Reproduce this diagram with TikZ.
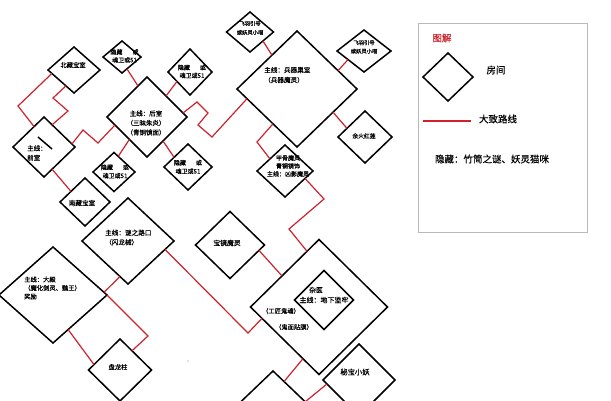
\documentclass[tikz,border=0pt]{standalone}
\usepackage{fontspec}
\newfontfamily\cjk[FakeBold=0.4]{Noto Sans CJK SC}
\usetikzlibrary{shapes.geometric,calc}
\definecolor{routered}{RGB}{205,35,45}
\definecolor{boxgrey}{RGB}{185,185,185}
\tikzset{
  room/.style={draw=black, line width=1.5pt, diamond, inner sep=0pt, outer sep=0pt},
  route/.style={draw=routered, line width=1.2pt, line join=miter},
  lbl/.style={inner sep=0pt, align=center, font=\cjk\fontsize{#1}{9}\selectfont},
  lbl/.default=6.3,
  lbll/.style={inner sep=0pt, align=left, anchor=west, font=\cjk\fontsize{#1}{9.5}\selectfont},
  lbll/.default=6.3,
  legtxt/.style={inner sep=0pt, font=\cjk\fontsize{9.5}{11}\selectfont},
}
\begin{document}
\begin{tikzpicture}[x=1pt,y=-1pt]
\useasboundingbox (0,0) rectangle (611,400);
\fill[white] (0,0) rectangle (611,400);
\clip (0,0) rectangle (611,400);

% rooms
\node[room, minimum width=52pt, minimum height=46pt] (A) at (74,70) {};
\node[room, minimum width=62pt, minimum height=60pt] (B) at (44,147) {};
\node[room, minimum width=50pt, minimum height=48pt] (C) at (85,202) {};
\node[room, minimum width=38pt, minimum height=32pt] (D) at (122,57) {};
\node[room, minimum width=80pt, minimum height=80pt] (E) at (147,117) {};
\node[room, minimum width=44pt, minimum height=46pt] (F) at (190,72) {};
\node[room, minimum width=42pt, minimum height=39pt] (G) at (114,172) {};
\node[room, minimum width=48pt, minimum height=46pt] (H) at (188,167) {};
\node[room, minimum width=47pt, minimum height=40pt] (I) at (250,32) {};
\node[room, minimum width=120pt, minimum height=116pt] (J) at (297,89) {};
\node[room, minimum width=54pt, minimum height=42pt] (K) at (364,51) {};
\node[room, minimum width=54pt, minimum height=52pt] (L) at (365,137) {};
\node[room, minimum width=56pt, minimum height=52pt] (M) at (285,171) {};
\node[room, minimum width=92pt, minimum height=86pt] (N) at (128,241) {};
\node[room, minimum width=108pt, minimum height=96pt] (O) at (53,295) {};
\node[room, minimum width=63pt, minimum height=62pt] (P) at (120,370) {};
\node[room, minimum width=69pt, minimum height=67pt] (Q) at (230,245) {};
\node[room, minimum width=137pt, minimum height=135pt] (R) at (319,307) {};
\node[room, minimum width=59pt, minimum height=59pt] (S) at (324,300) {};
\node[room, minimum width=72pt, minimum height=72pt] (T) at (359,380) {};
\node[room, minimum width=92pt, minimum height=88pt] (U) at (273,415) {};

% stroke inside the front room
\draw[line width=1.5pt] (38,137) -- (52,149);
\fill[gray] (188,361) circle (0.7);

% labels
\node[lbl=6.3] (tA) at (73,65) {北藏宝室};
\node[lbll=6.5] (tB) at (27,153) {主线：\\前室};
\node[lbl=6.6] (tC) at (82,203) {南藏宝室};
\node[lbl=6, font=\cjk\fontsize{6}{8}\selectfont] (tD) at (124.5,56) {隐藏\hspace{10pt}或\\魂卫或51};
\node[lbl=6.5, font=\cjk\fontsize{6.5}{9.5}\selectfont] (tE) at (146,123) {主线：后室\\（三昧朱炎）\\（青铜镜面）};
\node[lbl=6, font=\cjk\fontsize{6}{8}\selectfont] (tF) at (192,71.5) {隐藏\hspace{10pt}或\\魂卫或51};
\node[lbl=6, font=\cjk\fontsize{6}{8.5}\selectfont] (tG) at (115,171.5) {隐藏\hspace{10pt}或\\魂卫或51};
\node[lbl=6, font=\cjk\fontsize{6}{8.5}\selectfont] (tH) at (188,167) {隐藏\hspace{10pt}或\\魂卫或51};
\node[lbl=5.3, font=\cjk\fontsize{5.3}{9}\selectfont] (tI) at (250,28) {飞羽引号\\或妖灵小喵};
\node[lbll=6.6, font=\cjk\fontsize{6.6}{10}\selectfont] (tJ) at (264,75) {主线：兵器巢室\\（兵器魔灵）};
\node[lbl=5.3, font=\cjk\fontsize{5.3}{8.5}\selectfont] (tK) at (364,47) {飞羽引号\\或妖灵小喵};
\node[lbl=5.8] (tL) at (364,136) {余火红莲};
\node[lbl=6, font=\cjk\fontsize{6}{8}\selectfont] (tM) at (288,166) {甲骨魔灵\\青铜镜饰\\主线：凶影魔灵};
\node[lbll=6.6] (tN) at (105,237.5) {主线：谜之路口\\（闪龙械）};
\node[lbll=6.3, font=\cjk\fontsize{6.3}{8.5}\selectfont] (tO) at (24,288) {主线：大殿\\（魔化剑灵、魏王）\\奖励};
\node[lbl=6.3] (tP) at (118,367) {盘龙柱};
\node[lbl=6.8] (tQ) at (227,243) {宝镜魔灵};
\node[lbl=6.3] (tR1) at (281,311) {（工匠鬼魂）};
\node[lbl=6.3] (tR2) at (294,327) {（鬼面贴膜）};
\node[lbl=6.8] (tS1) at (316,290) {杂医};
\node[lbl=7] (tS2) at (324,300) {主线：地下监牢};
\node[lbl=7.3] (tT) at (355,372) {秘宝小妖};

% routes
\draw[route] ($(A.west)!0.15!(A.south)$) -- (18,106) -- ($(B.west)!0.68!(B.north)$);
\draw[route] ($(A.west)!0.69!(A.south)$) -- (53,98) -- (68,111) -- ($(B.north)!0.26!(B.east)$);
\draw[route] ($(B.north)!0.9!(B.east)$) -- (83,130) -- (98,143) -- ($(E.west)!0.2!(E.south)$);
\draw[route] ($(B.east)!0.74!(B.south)$) -- ($(C.west)!0.44!(C.north)$);
\draw[route] ($(D.east)!0.74!(D.south)$) -- ($(E.west)!0.775!(E.north)$);
\draw[route] ($(E.north)!0.475!(E.east)$) -- ($(F.south)!0.59!(F.west)$);
\draw[route] ($(E.west)!0.56!(E.south)$) -- ($(G.north)!0.2!(G.east)$);
\draw[route] ($(E.east)!0.6!(E.south)$) -- ($(H.west)!0.42!(H.north)$);
\draw[route] ($(E.north)!0.9!(E.east)$) -- (197,102) -- (208,113) -- (198,125) -- (212,137) -- ($(J.south)!0.833!(J.west)$);
\draw[route] ($(I.east)!0.45!(I.south)$) -- ($(J.west)!0.583!(J.north)$);
\draw[route] ($(J.north)!0.683!(J.east)$) -- ($(K.south)!0.59!(K.west)$);
\draw[route] ($(J.east)!0.4!(J.south)$) -- ($(L.west)!0.333!(L.north)$);
\draw[route] ($(J.south)!0.4!(J.west)$) -- (257,142) -- ($(M.west)!0.464!(M.north)$);
\draw[route] ($(M.east)!0.286!(M.south)$) -- (324,199) -- (289,229) -- ($(R.west)!0.825!(R.north)$);
\draw[route] ($(N.east)!0.196!(N.south)$) -- (248,333) -- ($(R.south)!0.832!(R.west)$);
\draw[route] ($(Q.east)!0.16!(Q.south)$) -- ($(R.west)!0.46!(R.north)$);
\draw[route] ($(R.south)!0.234!(R.west)$) -- ($(U.north)!0.24!(U.east)$);
\draw[route] ($(T.south)!0.89!(T.west)$) -- ($(U.north)!0.70!(U.east)$);
\draw[route] ($(N.south)!0.174!(N.west)$) -- ($(O.north)!0.944!(O.east)$);
\draw[route] ($(O.east)!0.72!(O.south)$) -- ($(P.west)!0.175!(P.north)$);
\draw[route] (O.east) -- (148,336) -- ($(P.north)!0.38!(P.east)$);

% legend
\draw[boxgrey, line width=0.8pt] (418,23) rectangle (587,232);
\node[legtxt, text=routered] (lgtitle) at (442,38) {图解};
\node[room, minimum width=50pt, minimum height=48pt] (LG) at (448,77) {};
\node[legtxt] (lgroom) at (496,70) {房间};
\coordinate (la) at (423,121);
\coordinate (lb) at (471,121);
\draw[route, line width=1.5pt] (la) -- (lb);
\node[legtxt] (lgroute) at (498,119) {大致路线};
\node[legtxt] (lghide) at (492,159) {隐藏：竹简之谜、妖灵猫咪};
\end{tikzpicture}
\end{document}
